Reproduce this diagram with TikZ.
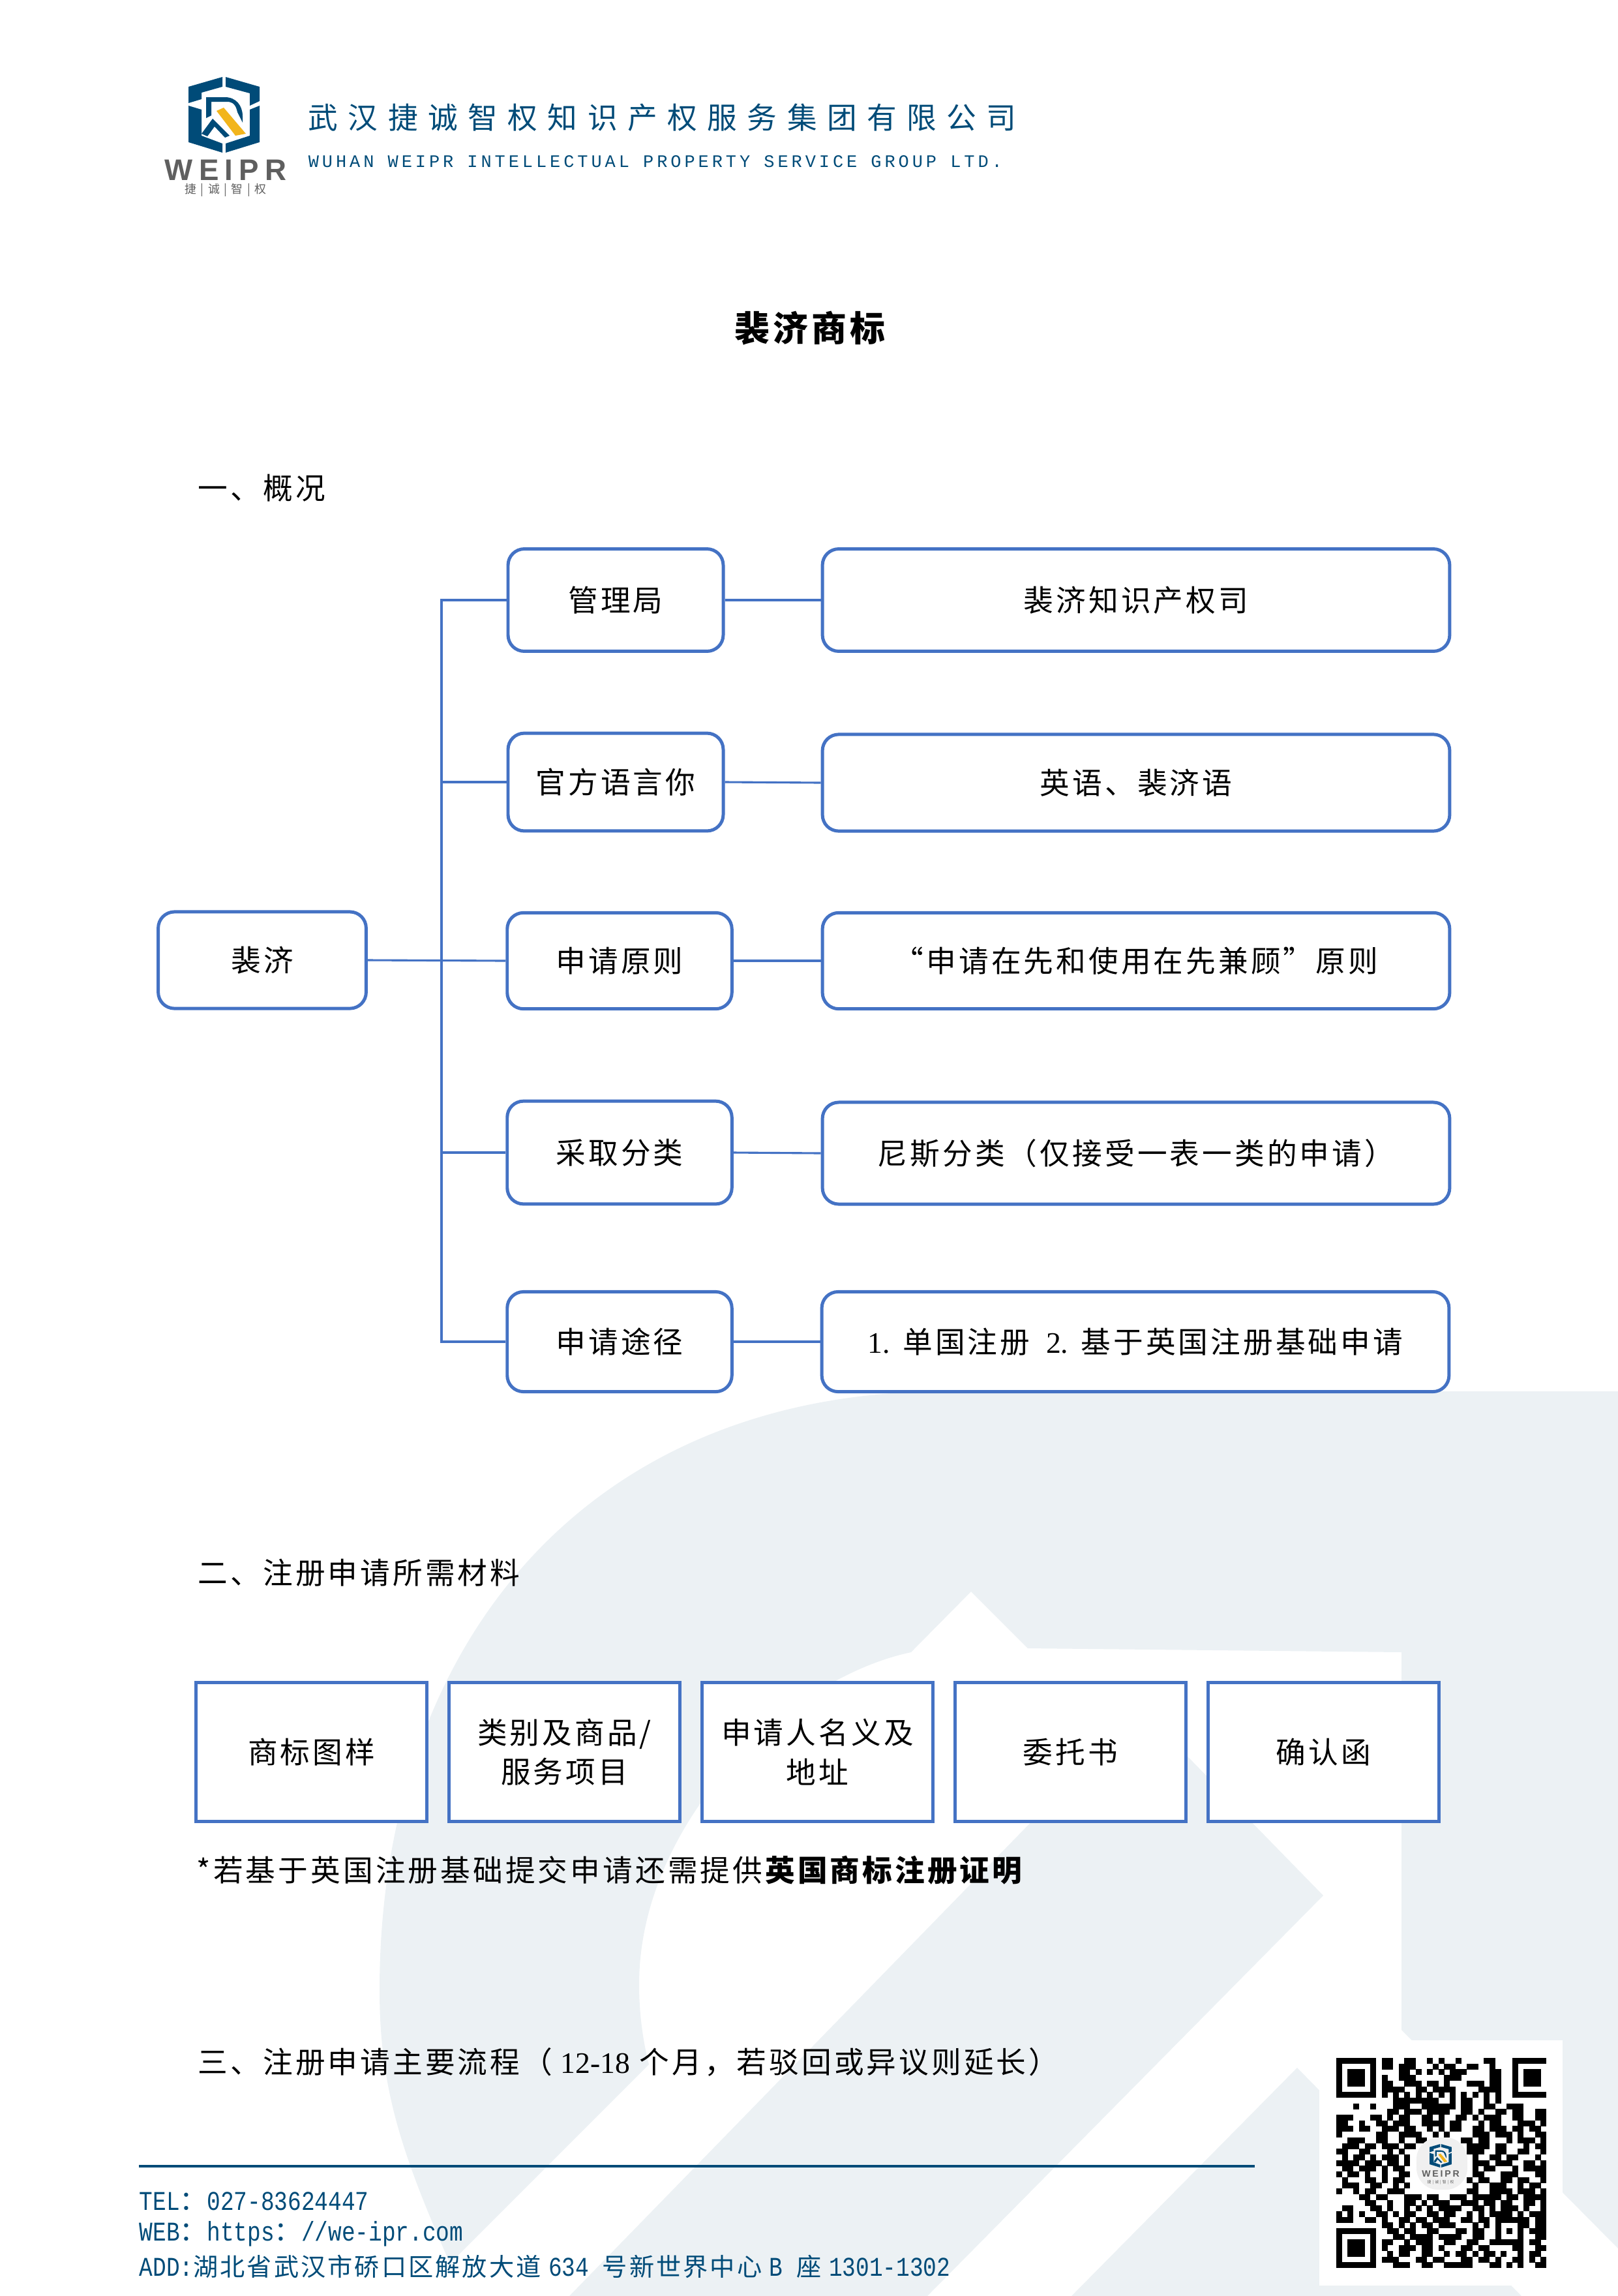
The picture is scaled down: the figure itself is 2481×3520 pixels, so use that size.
\documentclass[tikz,border=0pt]{standalone}
\usepackage{fontspec}
\setmainfont[LetterSpace=9]{Noto Sans CJK SC}
\newfontfamily\latinfont{Liberation Serif}
\newfontfamily\headfont[LetterSpace=34]{Noto Sans CJK SC}
\newfontfamily\footcjk[LetterSpace=8]{Noto Sans CJK SC}
\newfontfamily\footmono[FakeStretch=0.83]{Liberation Mono}
\newfontfamily\headmono[LetterSpace=18.3]{Liberation Mono}
\newfontfamily\logofont[LetterSpace=20]{Liberation Sans}
\newfontfamily\logocjk[LetterSpace=37]{Noto Sans CJK SC}

\definecolor{weiprblue}{HTML}{004B78}
\definecolor{weiprgold}{HTML}{F2B51C}
\definecolor{weiprgray}{HTML}{5F5F5F}
\definecolor{boxblue}{HTML}{4472C4}
\definecolor{markgray}{HTML}{ECF1F4}

\tikzset{
  body/.style={font=\fontsize{11}{14.6}\selectfont, align=center, inner sep=0pt},
  heading/.style={body, anchor=west},
  foot/.style={anchor=west, inner sep=0pt, text=weiprblue},
  roundbox/.style={body, draw=boxblue, line width=1.2pt, rounded corners=6pt, fill=white, minimum height=#1},
  roundbox/.default=36pt,
  narrowbox/.style={roundbox=#1, minimum width=79.5pt},
  midbox/.style={roundbox=#1, minimum width=83pt},
  widebox/.style={roundbox=#1, minimum width=231.7pt},
  sharpbox/.style={body, draw=boxblue, line width=1.2pt, fill=white, minimum width=85.5pt, minimum height=51.5pt},
  link/.style={draw=boxblue, line width=0.75pt},
}

\newcommand{\latintext}[1]{{\latinfont #1}}

\makeatletter
\newcount\qrcol
\newcommand{\qrrow}[2]{\qrcol=0 \@tfor\qrbit:=#2\do{\if\qrbit1\fill (\the\qrcol,#1) rectangle ++(1.03,1.03);\fi\advance\qrcol by 1 }}
\makeatother

% hexagon with the R
\newcommand{\weiprmark}{
  \fill[weiprblue] (341,118) -- (289,133) -- (289,158) -- (309,152) -- (309,142) -- (341,133) -- cycle;
  \fill[weiprblue] (346,118) -- (398,133) -- (398,155) -- (383,162) -- (383,143) -- (346,133) -- cycle;
  \fill[weiprblue] (289,162) -- (289,218) -- (341,234) -- (341,220) -- (309,208) -- (309,168) -- cycle;
  \fill[weiprblue] (398,162) -- (398,218) -- (346,234) -- (346,220) -- (383,208) -- (383,168) -- cycle;
  \fill[weiprblue] (316,149) -- (345,149) .. controls (362,149) and (372,162) .. (372,178) -- (372,188) -- (364,172) .. controls (362,162) and (358,156) .. (348,156) -- (324,156) -- (324,177) -- (316,181) -- cycle;
  \fill[weiprblue] (309,205) -- (326,182) -- (352,208) -- (345,211) -- (329,194) -- (318,209) -- cycle;
  \fill[weiprgold] (332,170) -- (343,165) -- (377,205) -- (361,208) -- cycle;
}

\begin{document}
\begin{tikzpicture}[x=0.2409pt,y=-0.2409pt]
  \useasboundingbox (0,0) rectangle (2481,3520);

  % watermark
  \fill[markgray] (690,3470) .. controls (615,3300) and (582,3200) .. (582,3051)
    .. controls (582,2520) and (900,2133) .. (1450,2133)
    -- (2481,2133) -- (2481,3447) -- (2149,3112) -- (2149,2533) -- (1576,2527) -- (1489,2440) -- (1397,2533)
    .. controls (1200,2575) and (980,2800) .. (980,3042)
    .. controls (980,3085) and (985,3125) .. (995,3165) -- cycle;
  \fill[markgray] (1750,2620) -- (2029,2906) -- (1422,3520) -- (873,3520) -- cycle;
  \fill[markgray] (1989,3170) -- (2333,3520) -- (1643,3520) -- cycle;

  % letterhead
  \weiprmark
  \node[anchor=center, inner sep=0pt, text=weiprgray, font=\logofont\fontsize{11}{11}\selectfont\bfseries] (logoname) at (346,261) {WEIPR};
  \node[anchor=center, inner sep=0pt, text=weiprgray, font=\logocjk\fontsize{4.3}{5}\selectfont] (logosub) at (346,291) {捷|诚|智|权};
  \node[anchor=west, inner sep=0pt, text=weiprblue, font=\headfont\fontsize{11}{12}\selectfont] (company) at (472,180) {武汉捷诚智权知识产权服务集团有限公司};
  \node[anchor=west, inner sep=0pt, text=weiprblue, font=\headmono\fontsize{6.5}{7}\selectfont] (companyen) at (472,248) {WUHAN WEIPR INTELLECTUAL PROPERTY SERVICE GROUP LTD.};

  \node[inner sep=0pt, font=\fontsize{13}{14}\selectfont\bfseries] (title) at (1242,503) {裴济商标};

  % part one
  \node[heading] (partone) at (303,748) {一、概况};

  \node[roundbox=35.7pt, minimum width=76.8pt] (feiji) at (402,1472) {裴济};
  \node[narrowbox=37.8pt] (guanli) at (944,920) {管理局};
  \node[narrowbox=36.1pt] (yuyan) at (944,1199) {官方语言你};
  \node[midbox=35.5pt] (yuanze) at (950,1473) {申请原则};
  \node[midbox=38pt] (fenlei) at (950,1767) {采取分类};
  \node[midbox=36.9pt] (tujing) at (950,2057) {申请途径};

  \node[widebox=37.8pt] (guanliv) at (1742,920) {裴济知识产权司};
  \node[widebox=35.7pt] (yuyanv) at (1742,1200) {英语、裴济语};
  \node[widebox=35.5pt] (yuanzev) at (1742,1473) {“申请在先和使用在先兼顾”原则};
  \node[widebox=37.6pt] (fenleiv) at (1742,1768) {尼斯分类（仅接受一表一类的申请）};
  \node[widebox=36.9pt] (tujingv) at (1741,2057) {\latintext{1.} 单国注册\hspace{6pt}\latintext{2.} 基于英国注册基础申请};

  \coordinate (bus) at (677,1473);
  \draw[link] (feiji.east) -- (yuanze.west);
  \draw[link] (guanli.west) -| (bus) |- (tujing.west);
  \draw[link] (yuyan.west) -- (yuyan.west -| bus);
  \draw[link] (fenlei.west) -- (fenlei.west -| bus);
  \draw[link] (guanli.east) -- (guanliv.west);
  \draw[link] (yuyan.east) -- (yuyanv.west);
  \draw[link] (yuanze.east) -- (yuanzev.west);
  \draw[link] (fenlei.east) -- (fenleiv.west);
  \draw[link] (tujing.east) -- (tujingv.west);

  % part two
  \node[heading] (parttwo) at (303,2411) {二、注册申请所需材料};
  \node[sharpbox] (tuyang) at (477.5,2686) {商标图样};
  \node[sharpbox] (shangpin) at (865.5,2686) {类别及商品/\\服务项目};
  \node[sharpbox] (mingyi) at (1253.5,2686) {申请人名义及\\地址};
  \node[sharpbox] (weituo) at (1641.5,2686) {委托书};
  \node[sharpbox] (queren) at (2029.5,2686) {确认函};
  \node[heading] (note) at (301,2867) {*若基于英国注册基础提交申请还需提供\textbf{英国商标注册证明}};

  % part three
  \node[heading] (partthree) at (303,3161) {三、注册申请主要流程（\hspace{3pt}\latintext{12-18} 个月，若驳回或异议则延长）};

  % footer
  \coordinate (ruleleft) at (213,3321);
  \coordinate (ruleright) at (1924,3321);
  \draw[weiprblue, line width=1pt] (ruleleft) -- (ruleright);
  \node[foot] (tel) at (213,3375) {\fontsize{10}{11}\selectfont\footmono TEL\footcjk：\footmono 027-83624447};
  \node[foot] (web) at (213,3425) {\fontsize{10}{11}\selectfont\footmono WEB\footcjk：\footmono https\footcjk：\footmono //we-ipr.com};
  \node[foot] (add) at (213,3475) {\fontsize{10}{11}\selectfont\footmono ADD:\fontsize{9.2}{11}\selectfont\footcjk 湖北省武汉市硚口区解放大道 \fontsize{10}{11}\selectfont\footmono 634 \fontsize{9.2}{11}\selectfont\footcjk 号新世界中心 \fontsize{10}{11}\selectfont\footmono B \fontsize{9.2}{11}\selectfont\footcjk 座 \fontsize{10}{11}\selectfont\footmono 1301-1302};

  % qr code
  \fill[white] (2023,3128) rectangle (2396,3504);
  \begin{scope}[shift={(2049,3155)},x=2.096pt,y=-2.096pt]
    \qrrow{0}{1111111011001100101001000011000111111}
    \qrrow{1}{1000001011011100010110011001000100000}
    \qrrow{2}{1011101000011010101011100001100101110}
    \qrrow{3}{1011101010011100000111000001100101110}
    \qrrow{4}{1011101011001110110100011101100101110}
    \qrrow{5}{1000001011110011011110000111100100000}
    \qrrow{6}{1111111010101010101010101010100111111}
    \qrrow{7}{0000000000111111110010110010100000000}
    \qrrow{8}{0001001000111001111110110011001110000}
    \qrrow{9}{0000000001101110111100110100110110011}
    \qrrow{10}{1110001101011001101001101011100110011}
    \qrrow{11}{1100100110111001111011000101100011101}
    \qrrow{12}{1110110011101100101011001101110110110}
    \qrrow{13}{1000000110011110010100001110111010011}
    \qrrow{14}{0011100110010011000000110110001011101}
    \qrrow{15}{0111011011101100000000011110110001011}
    \qrrow{16}{1100110001010000000000011100110011001}
    \qrrow{17}{0101101011101000000000001001101100010}
    \qrrow{18}{1111011101101000000000001110111001101}
    \qrrow{19}{0110111010110000000000001011000101111}
    \qrrow{20}{1011010010011000000000001100011100011}
    \qrrow{21}{0100011010110000000000010110011011001}
    \qrrow{22}{0111001100101000000000001001110010110}
    \qrrow{23}{1001011001110000000000011001111011101}
    \qrrow{24}{0000110110001110110011101111101101111}
    \qrrow{25}{0000011001001101011100111011011001101}
    \qrrow{26}{0110001101001010101111001101011101001}
    \qrrow{27}{1010100110101100110110010101111010111}
    \qrrow{28}{1110011010011011011100110110111111011}
    \qrrow{29}{0000000011010101101110001010100011011}
    \qrrow{30}{1111111001101100110001101100101010111}
    \qrrow{31}{1000001000110111101111001100100010011}
    \qrrow{32}{1011101011001011100110011001111110110}
    \qrrow{33}{1011101010011101101000110110000110011}
    \qrrow{34}{1011101001011001100101101011010010110}
    \qrrow{35}{1000001011100011011000110110100110101}
    \qrrow{36}{1111111000111001100111110001101010011}
  \end{scope}
  \fill[gray!12, rounded corners=8pt] (2172,3277) rectangle (2250,3357);
  \begin{scope}[shift={(2209,3305)},scale=0.31,shift={(-343.5,-176)}]
    \weiprmark
  \end{scope}
  \node[inner sep=0pt, text=weiprgray, font=\logofont\fontsize{3.4}{4}\selectfont\bfseries] (qrname) at (2209,3333) {WEIPR};
  \node[inner sep=0pt, text=weiprgray, font=\logocjk\fontsize{1.4}{2}\selectfont] (qrsub) at (2209,3346) {捷|诚|智|权};
\end{tikzpicture}
\end{document}
